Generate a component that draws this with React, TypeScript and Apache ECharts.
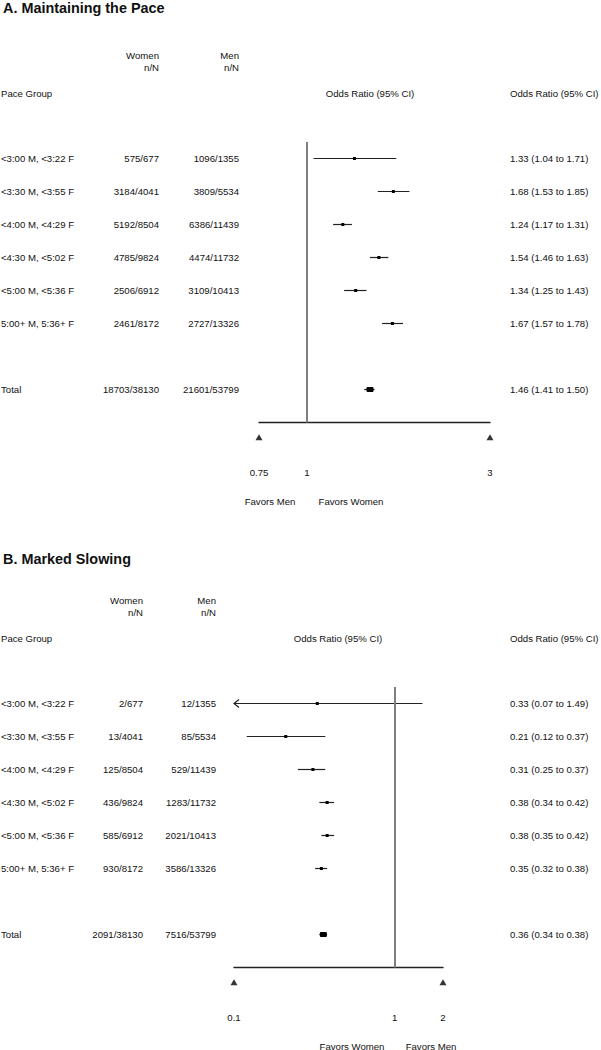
import React, { useEffect, useRef } from 'react'
import * as echarts from 'echarts'

// row labels shared by both panels; row 6 is left empty before the total
const paceGroups = [
  '<3:00 M, <3:22 F',
  '<3:30 M, <3:55 F',
  '<4:00 M, <4:29 F',
  '<4:30 M, <5:02 F',
  '<5:00 M, <5:36 F',
  '5:00+ M, 5:36+ F',
  'Total',
]
const rowPos = [0, 1, 2, 3, 4, 5, 7]

// A. Maintaining the Pace
const womenA = ['575/677', '3184/4041', '5192/8504', '4785/9824', '2506/6912', '2461/8172', '18703/38130']
const menA = ['1096/1355', '3809/5534', '6386/11439', '4474/11732', '3109/10413', '2727/13326', '21601/53799']
const orA = [1.33, 1.68, 1.24, 1.54, 1.34, 1.67, 1.46]
const loA = [1.04, 1.53, 1.17, 1.46, 1.25, 1.57, 1.41]
const hiA = [1.71, 1.85, 1.31, 1.63, 1.43, 1.78, 1.5]
const ticksA = [0.75, 1, 3]

// B. Marked Slowing
const womenB = ['2/677', '13/4041', '125/8504', '436/9824', '585/6912', '930/8172', '2091/38130']
const menB = ['12/1355', '85/5534', '529/11439', '1283/11732', '2021/10413', '3586/13326', '7516/53799']
const orB = [0.33, 0.21, 0.31, 0.38, 0.38, 0.35, 0.36]
const loB = [0.07, 0.12, 0.25, 0.34, 0.35, 0.32, 0.34]
const hiB = [1.49, 0.37, 0.37, 0.42, 0.42, 0.38, 0.38]
const ticksB = [0.1, 1, 2]

const FONT = '"Liberation Sans", Arial, Helvetica, sans-serif'
const FS = 9.6
const TXT = '#111'

const panels = [
  {
    title: 'A. Maintaining the Pace', women: womenA, men: menA, or: orA, lo: loA, hi: hiA, ticks: ticksA,
    favors: ['Favors Men', 'Favors Women'], favorsX: [270, 351],
    gridLeft: 259, gridWidth: 231, top: 0, womenX: 159, menX: 239, headX: 370, titleY: 8,
  },
  {
    title: 'B. Marked Slowing', women: womenB, men: menB, or: orB, lo: loB, hi: hiB, ticks: ticksB,
    favors: ['Favors Women', 'Favors Men'], favorsX: [352, 431],
    gridLeft: 234, gridWidth: 209, top: 545, womenX: 143, menX: 216, headX: 338, titleY: 559,
  },
]

const fmt = (v: number) => v.toFixed(2)

const App = () => {
  const chartRef = useRef<HTMLDivElement>(null)

  useEffect(() => {
    const chart = echarts.init(chartRef.current!, null, { renderer: 'svg' })

    const grid: any[] = []
    const xAxis: any[] = []
    const yAxis: any[] = []
    const series: any[] = []
    const graphic: any[] = []

    panels.forEach((p, i) => {
      const xMin = p.ticks[0]
      const xMax = p.ticks[p.ticks.length - 1]
      const orText = p.or.map((v, k) => `${fmt(v)} (${fmt(p.lo[k])} to ${fmt(p.hi[k])})`)
      const labelFor = (arr: string[]) => (v: number) => {
        const k = rowPos.indexOf(v)
        return k >= 0 ? arr[k] : ''
      }

      grid.push({
        left: p.gridLeft, width: p.gridWidth, top: p.top + 125.5, height: 297,
        containLabel: false, outerBoundsMode: 'none',
      })

      xAxis.push({
        type: 'log', logBase: 10, gridIndex: i, min: xMin, max: xMax,
        axisLine: { show: true, onZero: false, lineStyle: { color: '#222', width: 1.4 } },
        axisTick: { show: false }, axisLabel: { show: false }, splitLine: { show: false },
      })

      const baseY = {
        type: 'value', gridIndex: i, min: -1, max: 8, interval: 1, inverse: true,
        axisLine: { show: false }, axisTick: { show: false }, splitLine: { show: false },
      }
      const lbl = { fontFamily: FONT, fontSize: FS, color: TXT }
      yAxis.push(
        { ...baseY, position: 'left', axisLabel: { ...lbl, align: 'left', margin: p.gridLeft - 1, formatter: labelFor(paceGroups) } },
        { ...baseY, position: 'left', axisLabel: { ...lbl, margin: p.gridLeft - p.womenX, formatter: labelFor(p.women) } },
        { ...baseY, position: 'left', axisLabel: { ...lbl, margin: p.gridLeft - p.menX, formatter: labelFor(p.men) } },
        { ...baseY, position: 'right', axisLabel: { ...lbl, margin: 510 - (p.gridLeft + p.gridWidth), formatter: labelFor(orText) } },
      )

      // confidence intervals and point estimates
      series.push({
        type: 'custom', xAxisIndex: i, yAxisIndex: i * 4,
        data: rowPos.map((y, k) => [y, p.or[k], p.lo[k], p.hi[k], y === 7 ? 1 : 0]),
        encode: { x: [1, 2, 3], y: 0 },
        renderItem: (params: any, api: any) => {
          const y = api.value(0)
          const lo = api.value(2)
          const clipped = lo < xMin
          const a = api.coord([clipped ? xMin : lo, y])
          const b = api.coord([api.value(3), y])
          const m = api.coord([api.value(1), y])
          const total = api.value(4) === 1
          const children: any[] = [
            { type: 'line', shape: { x1: a[0], y1: a[1], x2: b[0], y2: b[1] }, style: { stroke: '#222', lineWidth: 1.2 } },
          ]
          if (clipped) {
            children.push({
              type: 'polyline',
              shape: { points: [[a[0] + 5, a[1] - 4], [a[0], a[1]], [a[0] + 5, a[1] + 4]] },
              style: { stroke: '#222', fill: null, lineWidth: 1.2 },
            })
          }
          const w = total ? 7 : 3
          const h = total ? 5 : 3
          children.push({ type: 'rect', shape: { x: m[0] - w / 2, y: m[1] - h / 2, width: w, height: h, r: total ? 1 : 0 }, style: { fill: '#000' } })
          return { type: 'group', children }
        },
        z: 3,
      })

      // end triangles under the axis, plus the null line at OR = 1
      series.push({
        type: 'scatter', xAxisIndex: i, yAxisIndex: i * 4, clip: false,
        symbol: 'triangle', symbolSize: [7, 6], itemStyle: { color: '#000' },
        data: [[xMin, 8.45], [xMax, 8.45]],
        markLine: {
          silent: true, symbol: ['none', 'none'], label: { show: false },
          lineStyle: { color: '#7f7f7f', width: 2, type: 'solid' },
          data: [[{ coord: [1, -0.5] }, { coord: [1, 8] }]],
        },
        z: 2,
      })

      // tick labels
      series.push({
        type: 'scatter', xAxisIndex: i, yAxisIndex: i * 4, clip: false,
        symbolSize: 1, itemStyle: { color: '#fff', opacity: 0 },
        data: p.ticks.map((t) => [t, 9.5]),
        label: {
          show: true, position: [0.5, 0.5], align: 'center', verticalAlign: 'middle',
          fontFamily: FONT, fontSize: FS, color: TXT, opacity: 1, textBorderWidth: 0,
          formatter: (d: any) => String(d.value[0]),
        },
      })

      const t = (text: string, x: number, y: number, align = 'left', font = `${FS}px ${FONT}`) => ({
        type: 'text', x, y,
        style: { text, font, fill: TXT, textAlign: align, textVerticalAlign: 'middle' },
      })
      graphic.push(
        t(p.title, 3, p.titleY, 'left', `bold 14.4px ${FONT}`),
        t('Women', p.womenX, p.top + 55, 'right'),
        t('n/N', p.womenX, p.top + 67, 'right'),
        t('Men', p.menX, p.top + 55, 'right'),
        t('n/N', p.menX, p.top + 67, 'right'),
        t('Pace Group', 1, p.top + 93),
        t('Odds Ratio (95% CI)', p.headX, p.top + 93, 'center'),
        t('Odds Ratio (95% CI)', 510, p.top + 93),
        t(p.favors[0], p.favorsX[0], p.top + 501, 'center'),
        t(p.favors[1], p.favorsX[1], p.top + 501, 'center'),
      )
    })

    chart.setOption({
      animation: false,
      backgroundColor: '#fff',
      textStyle: { fontFamily: FONT },
      grid, xAxis, yAxis, series, graphic,
    })

    return () => {
      chart.dispose()
    }
  }, [])

  return (
    <div style={{ position: 'absolute', left: 0, top: 0, width: '601px', height: '1050px' }} ref={chartRef}></div>
  )
}
export default App
